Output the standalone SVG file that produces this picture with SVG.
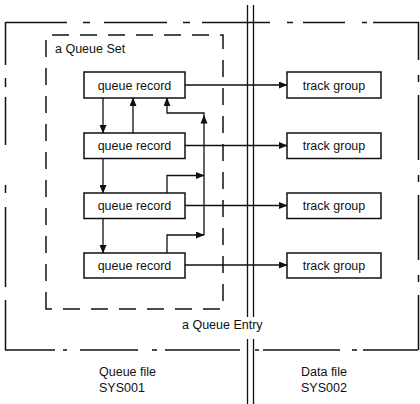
<svg xmlns="http://www.w3.org/2000/svg" width="420" height="404" viewBox="0 0 420 404">
  <style>
    text { font-family: "Liberation Sans", Arial, sans-serif; font-size: 12.5px; fill: #111; }
    .mid { text-anchor: middle; }
    .box { fill: #fff; stroke: #111; stroke-width: 1.5; }
    .outer { fill: none; stroke: #111; stroke-width: 1.5; }
    .inner { fill: none; stroke: #111; stroke-width: 1.5; stroke-dasharray: 17 11; }
    .wall { fill: none; stroke: #111; stroke-width: 1.3; }
    .link { fill: none; stroke: #111; stroke-width: 1.3; }
  </style>
  <defs>
    <marker id="arrow" markerUnits="userSpaceOnUse" markerWidth="9" markerHeight="7" refX="8" refY="3.5" orient="auto">
      <path d="M0,0 L8.5,3.5 L0,7 z" fill="#111"/>
    </marker>
  </defs>

  <!-- queue entry boundary (dash-dot) -->
  <g id="queue-entry">
    <path class="outer" d="M6,22.5 H67 M83,22.5 H90 M104,22.5 H167 M183,22.5 H190 M202,22.5 H270 M287,22.5 H293 M303,22.5 H345 M362,22.5 H367 M373,22.5 H419"/>
    <path class="outer" d="M5,350 H55 M63,350 H67 M80,350 H138 M152,350 H157 M165,350 H240 M255,350 H259 M263,350 H340 M352,350 H357 M363,350 H418"/>
    <path class="outer" d="M5.5,22 V65 M5.5,78 V87 M5.5,97 V145 M5.5,185 V193 M5.5,207 V287 M5.5,300 V350"/>
    <path class="outer" d="M418.5,22 V60 M418.5,75 V82 M418.5,95 V160 M418.5,175 V182 M418.5,195 V260 M418.5,275 V282 M418.5,295 V350"/>
    <text x="182" y="329">a Queue Entry</text>
  </g>

  <!-- queue set boundary (dashed) -->
  <g id="queue-set">
    <path class="inner" d="M46,309 V35 H223 V309 Z"/>
    <text x="55" y="52.5">a Queue Set</text>
  </g>

  <!-- file separation -->
  <g id="file-wall">
    <path class="wall" d="M247.5,5 V317 M247.5,339 V404 M253.5,5 V317 M253.5,339 V404"/>
  </g>

  <!-- queue records -->
  <g id="queue-record-1">
    <rect class="box" x="84" y="72" width="101" height="26"/>
    <text class="mid" x="134.5" y="89.5">queue record</text>
  </g>
  <g id="queue-record-2">
    <rect class="box" x="84" y="133" width="101" height="25.5"/>
    <text class="mid" x="134.5" y="150">queue record</text>
  </g>
  <g id="queue-record-3">
    <rect class="box" x="84" y="193" width="101" height="25.5"/>
    <text class="mid" x="134.5" y="210">queue record</text>
  </g>
  <g id="queue-record-4">
    <rect class="box" x="84" y="253" width="101" height="25"/>
    <text class="mid" x="134.5" y="269.5">queue record</text>
  </g>

  <!-- track groups -->
  <g id="track-group-1">
    <rect class="box" x="287" y="72" width="94" height="26"/>
    <text class="mid" x="334" y="89.5">track group</text>
  </g>
  <g id="track-group-2">
    <rect class="box" x="287" y="133" width="94" height="25.5"/>
    <text class="mid" x="334" y="150">track group</text>
  </g>
  <g id="track-group-3">
    <rect class="box" x="287" y="193" width="94" height="25.5"/>
    <text class="mid" x="334" y="210">track group</text>
  </g>
  <g id="track-group-4">
    <rect class="box" x="287" y="253" width="94" height="25"/>
    <text class="mid" x="334" y="269.5">track group</text>
  </g>

  <!-- file labels -->
  <g id="queue-file">
    <text x="99" y="376">Queue file</text>
    <text x="99" y="391.5">SYS001</text>
  </g>
  <g id="data-file">
    <text x="301" y="376">Data file</text>
    <text x="301" y="391.5">SYS002</text>
  </g>

  <!-- connectors -->
  <g id="connectors">
    <path class="link" d="M185,85 H287" marker-end="url(#arrow)"/>
    <path class="link" d="M185,145.5 H287" marker-end="url(#arrow)"/>
    <path class="link" d="M185,205.5 H287" marker-end="url(#arrow)"/>
    <path class="link" d="M185,265 H287" marker-end="url(#arrow)"/>

    <path class="link" d="M103,98 V133" marker-end="url(#arrow)"/>
    <path class="link" d="M103,158.5 V193" marker-end="url(#arrow)"/>
    <path class="link" d="M103,218.5 V253" marker-end="url(#arrow)"/>
    <path class="link" d="M133,133 V98" marker-end="url(#arrow)"/>

    <path class="link" d="M204,235 V113 H167 V98" marker-end="url(#arrow)"/>
    <path d="M204,115 L200.5,123.5 L207.5,123.5 z" fill="#111"/>
    <path class="link" d="M167,193 V175.5 H204" marker-end="url(#arrow)"/>
    <path class="link" d="M167,253 V235 H204" marker-end="url(#arrow)"/>
  </g>
</svg>
